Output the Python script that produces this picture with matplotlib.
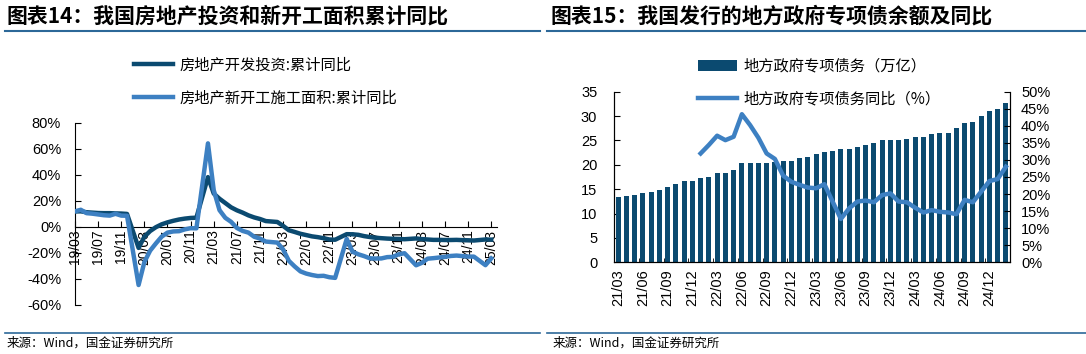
import matplotlib
matplotlib.use("Agg")
import numpy as np
import matplotlib.pyplot as plt
from matplotlib.lines import Line2D

plt.rcParams['font.family'] = ['Liberation Sans', 'Noto Sans CJK SC', 'DejaVu Sans']
CJK = ['Noto Sans CJK SC', 'DejaVu Sans']

# ---- left chart: real estate investment / new starts, cumulative yoy (%) ----
# months are Feb-Dec for each year (Jan is merged into Feb), 2019-03 .. 2025-03
left_months = (["2019-%02d" % m for m in range(3, 13)]
               + ["%d-%02d" % (y, m) for y in range(2020, 2025) for m in range(2, 13)]
               + ["2025-02", "2025-03"])
invest_yoy = [11.8, 11.9, 11.2, 10.9, 10.6, 10.5, 10.5, 10.3, 10.2, 9.9,
              -16.3, -7.7, -3.3, -0.3, 1.9, 3.4, 4.6, 5.6, 6.3, 6.8, 7.0,
              38.3, 25.6, 21.6, 18.3, 15.0, 12.7, 10.9, 8.8, 7.2, 6.0, 4.4,
              3.7, 0.7, -2.7, -4.0, -5.4, -6.4, -7.4, -8.0, -8.8, -9.8, -10.0,
              -5.7, -5.8, -6.2, -7.2, -7.9, -8.5, -8.8, -9.1, -9.3, -9.4, -9.6,
              -9.0, -9.5, -9.8, -10.1, -10.1, -10.2, -10.2, -10.1, -10.3, -10.4, -10.6,
              -9.8, -9.9]
newstart_yoy = [11.9, 13.1, 10.5, 10.1, 9.5, 8.9, 8.6, 10.0, 8.6, 8.5,
                -44.9, -27.2, -18.4, -12.8, -7.6, -4.5, -3.6, -3.4, -2.0, -1.1, -1.2,
                64.3, 28.2, 12.8, 6.9, 3.8, -0.9, -3.2, -4.5, -7.7, -9.1, -11.4,
                -12.2, -17.5, -26.3, -30.6, -34.4, -36.1, -37.2, -38.0, -37.8, -38.9, -39.4,
                -9.4, -19.2, -21.2, -22.6, -24.3, -24.5, -24.4, -23.4, -23.2, -21.2, -20.4,
                -29.7, -27.8, -24.6, -24.2, -23.7, -23.2, -22.5, -22.2, -22.6, -23.0, -23.0,
                -29.6, -24.4]
left_ticks = ["19/03", "19/07", "19/11", "20/03", "20/07", "20/11", "21/03", "21/07",
              "21/11", "22/03", "22/07", "22/11", "23/03", "23/07", "23/11", "24/03",
              "24/07", "24/11", "25/03"]

# ---- right chart: local government special bonds outstanding ----
right_ticks = ["21/03", "21/06", "21/09", "21/12", "22/03", "22/06", "22/09", "22/12",
               "23/03", "23/06", "23/09", "23/12", "24/03", "24/06", "24/09", "24/12"]
bond_balance = [13.3, 13.6, 13.9, 14.2, 14.5, 14.8, 15.5, 16.1, 16.7, 16.7,
                17.3, 17.6, 18.3, 18.3, 18.9, 20.4, 20.4, 20.4, 20.4, 20.5, 20.7, 20.7,
                21.3, 21.6, 22.2, 22.6, 22.9, 23.2, 23.2, 23.7, 24.1, 24.4, 25.0, 25.0,
                25.0, 25.3, 25.7, 25.7, 26.3, 26.6, 26.6, 27.6, 28.5, 28.8, 30.0, 31.0,
                31.4, 32.6]
# yoy starts at 22/01 (11th month)
bond_yoy = [31.9, 34.4, 37.1, 35.8, 36.8, 43.4, 40.2, 36.5, 31.9, 30.3, 25.4, 23.6,
            22.7, 21.9, 21.7, 22.9, 17.8, 12.7, 15.8, 17.8, 18.1, 17.6, 19.7, 20.2,
            17.8, 17.6, 16.0, 14.6, 15.3, 14.8, 14.6, 14.1, 18.3, 17.6, 20.7, 23.8,
            24.4, 28.0]

dark = '#0b4a70'
light = '#3d80c2'
rule = '#2c6898'

W, H = 1086, 354
fig = plt.figure(figsize=(W / 100, H / 100), dpi=100)

def fx(px):
    return px / W

def fy(py):
    return 1 - py / H

# titles, rules, sources
fig.text(fx(6), fy(16), "图表14：我国房地产投资和新开工面积累计同比", family=CJK,
         fontsize=15, fontweight='bold', va='center', ha='left')
fig.text(fx(550), fy(16), "图表15：我国发行的地方政府专项债余额及同比", family=CJK,
         fontsize=15, fontweight='bold', va='center', ha='left')
for x0, x1 in [(5, 540), (547, 1086)]:
    fig.add_artist(Line2D([fx(x0), fx(x1)], [fy(31), fy(31)], color=rule, lw=1.5))
    fig.add_artist(Line2D([fx(x0), fx(x1)], [fy(333), fy(333)], color=rule, lw=1.2))
fig.text(fx(7), fy(343), "来源：Wind，国金证券研究所", family=CJK, fontsize=9, va='center')
fig.text(fx(553), fy(343), "来源：Wind，国金证券研究所", family=CJK, fontsize=9, va='center')

# ---------------- left ----------------
ax1 = fig.add_axes([fx(75), fy(304.6), fx(422), (304.6 - 123) / H])
xi = [(int(s[:4]) - 2019) * 12 + int(s[5:]) - 3 for s in left_months]
l1, = ax1.plot(xi, invest_yoy, color=dark, lw=3.2, solid_joinstyle='round', zorder=3)
l2, = ax1.plot(xi, newstart_yoy, color=light, lw=3.2, solid_joinstyle='round', zorder=4)
ax1.set_xlim(0, 73)
ax1.set_ylim(-60, 80)
ax1.set_yticks(np.arange(-60, 81, 20))
ax1.set_yticklabels(["%d%%" % v for v in np.arange(-60, 81, 20)], fontsize=10.5)
ax1.set_xticks(np.arange(0, 73, 4))
ax1.set_xticklabels(left_ticks, fontsize=10.5)
ax1.spines['bottom'].set_position(('data', 0))
for s in ['top', 'right']:
    ax1.spines[s].set_visible(False)
ax1.tick_params(axis='x', direction='in', length=4, pad=2, labelrotation=90)
ax1.tick_params(axis='y', direction='in', length=4, pad=10)
ax1.set_facecolor('none')

fig.legend([l1, l2], ["房地产开发投资:累计同比", "房地产新开工施工面积:累计同比"],
           loc='upper left', bbox_to_anchor=(fx(126), fy(49)), frameon=False,
           borderpad=0, handlelength=2.6, handletextpad=0.4, labelspacing=1.05,
           prop={'family': CJK, 'size': 11})

# ---------------- right ----------------
ax2 = fig.add_axes([fx(614), fy(262.3), fx(396), (262.3 - 91.7) / H])
xb = np.arange(len(bond_balance))
bars = ax2.bar(xb, bond_balance, width=0.6, color=dark, zorder=2)
ax2.set_xlim(-0.5, len(bond_balance) - 0.5)
ax2.set_ylim(0, 35)
ax2.set_yticks(np.arange(0, 36, 5))
ax2.tick_params(axis='y', direction='in', length=4, labelsize=10.5, pad=12)
ax2.set_xticks(np.arange(0, len(right_ticks) * 3, 3))
ax2.set_xticklabels(right_ticks, fontsize=10.5)
ax2.set_xticks(np.arange(2.5, len(bond_balance), 3), minor=True)
ax2.tick_params(axis='x', which='major', length=0, pad=5, labelrotation=90)
ax2.tick_params(axis='x', which='minor', direction='in', length=3)
ax2.spines['top'].set_visible(False)

ax3 = ax2.twinx()
xl = np.arange(len(bond_balance) - len(bond_yoy), len(bond_balance))
l3, = ax3.plot(xl, bond_yoy, color=light, lw=3.2, solid_joinstyle='round', zorder=3)
ax3.set_ylim(0, 50)
ax3.set_yticks(np.arange(0, 51, 5))
ax3.set_yticklabels(["%d%%" % v for v in np.arange(0, 51, 5)], fontsize=10.5)
ax3.tick_params(axis='y', direction='in', length=4, pad=8)
ax3.spines['top'].set_visible(False)

fig.legend([bars, l3], ["地方政府专项债务（万亿）", "地方政府专项债务同比（%）"],
           loc='upper left', bbox_to_anchor=(fx(690), fy(50)), frameon=False,
           borderpad=0, handlelength=2.6, handletextpad=0.4, labelspacing=1.05,
           prop={'family': CJK, 'size': 11})

fig.savefig("out.png", dpi=100)
